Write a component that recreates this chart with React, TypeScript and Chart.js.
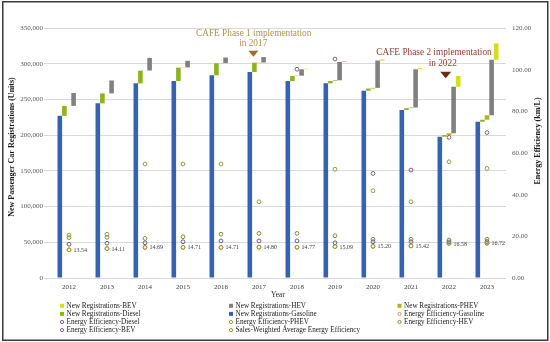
import React, { useEffect, useRef } from 'react';
import { Chart, registerables } from 'chart.js';

Chart.register(...registerables);

// ---------------- DATA ----------------
const YEARS = ['2012', '2013', '2014', '2015', '2016', '2017', '2018', '2019', '2020', '2021', '2022', '2023'];

// New passenger car registrations (units) per powertrain
const REG_GASOLINE = [227000, 244500, 272500, 275800, 283800, 288400, 275800, 272500, 262200, 235200, 197800, 218800];
const REG_DIESEL = [14000, 14000, 17800, 18700, 16800, 13000, 7000, 3300, 3000, 2500, 2300, 2800];
const REG_PHEV = [0, 0, 200, 300, 300, 300, 400, 1000, 1000, 1000, 2500, 6200];
const REG_HEV = [18000, 18000, 17700, 9300, 7800, 7600, 9000, 25600, 38300, 53500, 65200, 77800];
const REG_BEV = [0, 0, 0, 0, 0, 0, 800, 1500, 1500, 1500, 15000, 22800];

// Energy efficiency (km/L)
const EE_GASOLINE = [13.54, 14.1, 14.68, 14.7, 14.7, 14.8, 14.76, 15.08, 15.2, 15.4, 16.55, 16.7];
const EE_DIESEL = [16.2, 16.7, 16.9, 17.4, 17.8, 17.8, 17.8, 16.9, 17.4, 17.4, 17.3, 17.5];
const EE_PHEV = [20.6, 21.0, 54.7, 54.7, 54.7, 36.6, null, 52.2, 41.9, 36.6, 55.8, 52.6];
const EE_HEV = [19.4, 19.5, 19.0, 19.8, 21.0, 21.4, 21.4, 20.3, 18.6, 18.6, 18.2, 18.6];
const EE_BEV = [null, null, null, null, null, null, 100.2, 105.1, 50.2, 51.8, 67.5, 69.8];
const EE_SALES_WEIGHTED = [13.54, 14.11, 14.69, 14.71, 14.71, 14.8, 14.77, 15.09, 15.2, 15.42, 16.58, 16.72];

// Axes
const LEFT_MAX = 350000;
const LEFT_STEP = 50000;
const RIGHT_MAX = 120;
const RIGHT_STEP = 20;
const LEFT_TITLE = 'New Passenger Car Registrations (Units)';
const RIGHT_TITLE = 'Energy Efficiency (km/L)';
const X_TITLE = 'Year';

// ---------------- STYLE ----------------
const SERIF = '"Liberation Serif", "Times New Roman", serif';
const C_GASOLINE = '#3762b2';
const C_DIESEL = '#8db41d';
const C_PHEV = '#b0b31c';
const C_HEV = '#808080';
const C_BEV = '#d2de1e';
const C_EE_GASOLINE = '#e39a4e';
const C_EE_DIESEL = '#6f5a8c';
const C_EE_PHEV = '#9a9c3a';
const C_EE_HEV = '#8a8c30';
const C_EE_BEV = '#8a5a86';
const C_EE_SALES = '#8e9a2c';

const ANNOTATIONS = [
  {
    lines: ['CAFE Phase 1 implementation', 'in 2017'],
    year: '2017',
    color: '#b3904f',
    arrowColor: '#a2692b',
    lineValues: [342600, 327600],
    lineDx: [-5.3, -5.8],
    arrowDx: -5.6,
    arrowTop: 318200,
    arrowBottom: 309800,
    arrowHalf: 5,
  },
  {
    lines: ['CAFE Phase 2 implementation', 'in 2022'],
    year: '2022',
    color: '#8e4030',
    arrowColor: '#6b2c12',
    lineValues: [315000, 300000],
    lineDx: [-15, -6.3],
    arrowDx: -3.3,
    arrowTop: 288800,
    arrowBottom: 279600,
    arrowHalf: 5.5,
  },
];

function cumulative(parts: number[][]): [number, number][][] {
  const out: [number, number][][] = [];
  const base = YEARS.map(() => 0);
  parts.forEach((arr) => {
    const ds: [number, number][] = arr.map((v, i) => {
      const s = base[i];
      base[i] = s + v;
      return [s, s + v];
    });
    out.push(ds);
  });
  return out;
}

const framePlugin = {
  id: 'frameBg',
  beforeDraw(chart: any) {
    const ctx = chart.ctx;
    ctx.save();
    ctx.fillStyle = '#ffffff';
    ctx.fillRect(0, 0, chart.width, chart.height);
    ctx.restore();
  },
  afterDraw(chart: any) {
    const ctx = chart.ctx;
    ctx.save();
    ctx.strokeStyle = '#3a3a3a';
    ctx.lineWidth = 1.5;
    ctx.strokeRect(2.75, 1.75, chart.width - 5, chart.height - 3.5);
    ctx.restore();
  },
};

const axisTitlePlugin = {
  id: 'axisTitles',
  afterDraw(chart: any) {
    const ctx = chart.ctx;
    const ca = chart.chartArea;
    const mid = (ca.top + ca.bottom) / 2;
    ctx.save();
    ctx.font = `bold 8px ${SERIF}`;
    ctx.fillStyle = '#1a1a1a';
    ctx.textAlign = 'center';
    ctx.textBaseline = 'middle';
    ctx.save();
    ctx.translate(12, mid - 6);
    ctx.rotate(-Math.PI / 2);
    ctx.fillText(LEFT_TITLE, 0, 0);
    ctx.restore();
    ctx.save();
    ctx.translate(538, mid - 12);
    ctx.rotate(-Math.PI / 2);
    ctx.fillText(RIGHT_TITLE, 0, 0);
    ctx.restore();
    ctx.restore();
  },
};

const salesLabelPlugin = {
  id: 'salesLabels',
  afterDatasetsDraw(chart: any) {
    const idx = chart.data.datasets.findIndex((d: any) => d.label === 'Sales-Weighted Average Energy Efficiency');
    if (idx < 0) return;
    const meta = chart.getDatasetMeta(idx);
    const ctx = chart.ctx;
    ctx.save();
    ctx.font = `6px ${SERIF}`;
    ctx.fillStyle = '#404040';
    ctx.textAlign = 'left';
    ctx.textBaseline = 'middle';
    meta.data.forEach((pt: any, i: number) => {
      const v = EE_SALES_WEIGHTED[i];
      if (v == null) return;
      ctx.fillText(v.toFixed(2), pt.x + 4.5, pt.y + 0.5);
    });
    ctx.restore();
  },
};

const annotationPlugin = {
  id: 'cafeNotes',
  afterDatasetsDraw(chart: any) {
    const ctx = chart.ctx;
    const xs = chart.scales.x;
    const ys = chart.scales.y;
    ctx.save();
    ANNOTATIONS.forEach((a) => {
      const cx = xs.getPixelForValue(YEARS.indexOf(a.year));
      ctx.font = `9.3px ${SERIF}`;
      ctx.fillStyle = a.color;
      ctx.textAlign = 'center';
      ctx.textBaseline = 'middle';
      a.lines.forEach((t, k) => {
        ctx.fillText(t, cx + a.lineDx[k], ys.getPixelForValue(a.lineValues[k]));
      });
      const tx = cx + a.arrowDx;
      const top = ys.getPixelForValue(a.arrowTop);
      const bot = ys.getPixelForValue(a.arrowBottom);
      ctx.fillStyle = a.arrowColor;
      ctx.beginPath();
      ctx.moveTo(tx - a.arrowHalf, top);
      ctx.lineTo(tx + a.arrowHalf, top);
      ctx.lineTo(tx, bot);
      ctx.closePath();
      ctx.fill();
    });
    ctx.restore();
  },
};

const legendPlugin = {
  id: 'gridLegend',
  afterDraw(chart: any) {
    const ctx = chart.ctx;
    const ds = chart.data.datasets;
    const order = [
      'New Registrations-BEV', 'New Registrations-HEV', 'New Registrations-PHEV',
      'New Registrations-Diesel', 'New Registrations-Gasoline', 'Energy Efficiency-Gasoline',
      'Energy Efficiency-Diesel', 'Energy Efficiency-PHEV', 'Energy Efficiency-HEV',
      'Energy Efficiency-BEV', 'Sales-Weighted Average Energy Efficiency',
    ];
    const colX = [60, 229, 397.5];
    const rowY = [305.8, 313.9, 322, 330.1];
    ctx.save();
    ctx.font = `7.2px ${SERIF}`;
    ctx.textAlign = 'left';
    ctx.textBaseline = 'middle';
    order.forEach((label, i) => {
      const d = ds.find((x: any) => x.label === label);
      if (!d) return;
      const x = colX[i % 3];
      const y = rowY[Math.floor(i / 3)];
      if (d.type === 'bar') {
        ctx.fillStyle = d.backgroundColor;
        ctx.fillRect(x, y - 2, 4, 4);
      } else {
        ctx.strokeStyle = d.borderColor;
        ctx.lineWidth = 1;
        ctx.beginPath();
        ctx.arc(x + 2, y, 1.6, 0, Math.PI * 2);
        ctx.stroke();
      }
      ctx.fillStyle = '#1a1a1a';
      ctx.fillText(label, x + 6.5, y + 0.3);
    });
    ctx.restore();
  },
};

export default function App() {
  const ref = useRef<HTMLCanvasElement>(null);

  useEffect(() => {
    const canvas = ref.current;
    if (!canvas) return;
    const [fGas, fDiesel, fPhev, fHev, fBev] = cumulative([REG_GASOLINE, REG_DIESEL, REG_PHEV, REG_HEV, REG_BEV]);

    const bar = (label: string, data: any, color: string) => ({
      type: 'bar' as const,
      label,
      data,
      backgroundColor: color,
      borderWidth: 0,
      yAxisID: 'y',
      order: 3,
      barPercentage: 1,
      categoryPercentage: 0.605,
    });
    const pts = (label: string, data: any, color: string, order: number) => ({
      type: 'line' as const,
      label,
      data,
      showLine: false,
      borderColor: color,
      backgroundColor: 'rgba(255,255,255,0)',
      pointBorderColor: color,
      pointBackgroundColor: 'rgba(255,255,255,0)',
      pointRadius: 1.9,
      pointBorderWidth: 1,
      pointStyle: 'circle',
      yAxisID: 'y1',
      order,
    });

    const chart = new Chart(canvas, {
      data: {
        labels: YEARS,
        datasets: [
          bar('New Registrations-Gasoline', fGas, C_GASOLINE),
          bar('New Registrations-Diesel', fDiesel, C_DIESEL),
          bar('New Registrations-PHEV', fPhev, C_PHEV),
          bar('New Registrations-HEV', fHev, C_HEV),
          bar('New Registrations-BEV', fBev, C_BEV),
          pts('Energy Efficiency-Gasoline', EE_GASOLINE, C_EE_GASOLINE, 4),
          pts('Energy Efficiency-Diesel', EE_DIESEL, C_EE_DIESEL, 1),
          pts('Energy Efficiency-PHEV', EE_PHEV, C_EE_PHEV, 1),
          pts('Energy Efficiency-HEV', EE_HEV, C_EE_HEV, 1),
          pts('Energy Efficiency-BEV', EE_BEV, C_EE_BEV, 1),
          pts('Sales-Weighted Average Energy Efficiency', EE_SALES_WEIGHTED, C_EE_SALES, 0),
        ] as any,
      },
      options: {
        responsive: false,
        animation: false,
        devicePixelRatio: 1,
        layout: { padding: { top: 28, left: 0, right: 0, bottom: 42 } },
        plugins: {
          legend: { display: false },
          tooltip: { enabled: false },
          title: { display: false },
        },
        scales: {
          x: {
            type: 'category',
            offset: true,
            grid: { display: false, drawTicks: false },
            border: { display: false },
            ticks: {
              color: '#404040',
              font: { family: SERIF, size: 7 },
              padding: 4.5,
              maxRotation: 0,
              autoSkip: false,
            },
            title: {
              display: true,
              text: X_TITLE,
              color: '#262626',
              font: { family: SERIF, size: 7.5 },
              padding: { top: 0, bottom: 0 },
            },
            afterFit: (s: any) => { s.height = 22; },
          },
          y: {
            type: 'linear',
            position: 'left',
            min: 0,
            max: LEFT_MAX,
            grid: { color: '#d9d9d9', lineWidth: 1, drawTicks: true, tickLength: 6 },
            border: { display: false },
            ticks: {
              stepSize: LEFT_STEP,
              color: '#595959',
              font: { family: SERIF, size: 7 },
              padding: 1,
              callback: (v: any) => Number(v).toLocaleString('en-US'),
            },
            afterFit: (s: any) => { s.width = 50; },
          },
          y1: {
            type: 'linear',
            position: 'right',
            min: 0,
            max: RIGHT_MAX,
            grid: { display: false, drawTicks: false },
            border: { display: false },
            ticks: {
              stepSize: RIGHT_STEP,
              color: '#595959',
              font: { family: SERIF, size: 7 },
              padding: 6,
              callback: (v: any) => Number(v).toFixed(2),
            },
            afterFit: (s: any) => { s.width = 44; },
          },
        },
      } as any,
      plugins: [framePlugin, axisTitlePlugin, salesLabelPlugin, annotationPlugin, legendPlugin],
    });
    return () => chart.destroy();
  }, []);

  return (
    <div style={{ position: 'absolute', left: 0, top: 0, width: 550, height: 342, background: '#fff' }}>
      <canvas ref={ref} width={550} height={342} style={{ display: 'block', width: 550, height: 342 }} />
    </div>
  );
}
